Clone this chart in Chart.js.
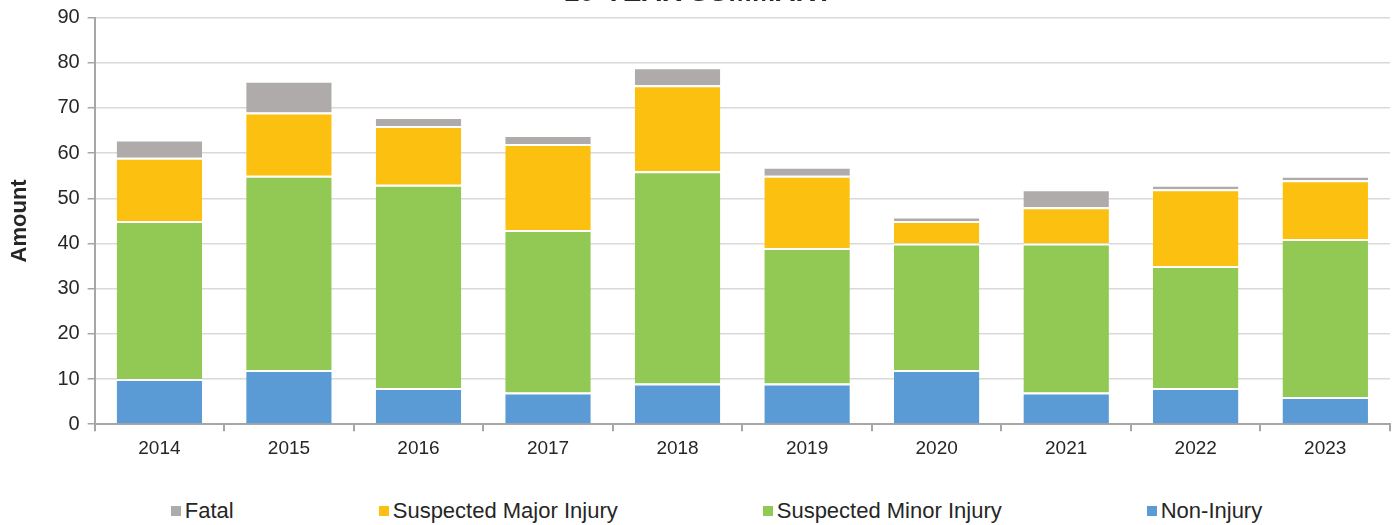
<!DOCTYPE html>
<html lang="en">
<head>
  <meta charset="UTF-8" />
  <title>10-Year Summary</title>
  <script src="https://cdn.jsdelivr.net/npm/chart.js"></script>
  <style>
    html, body {
      margin: 0;
      padding: 0;
      background: #fff;
    }
    #wrap {
      position: relative;
      width: 1399px;
      height: 525px;
      overflow: hidden;
    }
    #chartBox {
      position: absolute;
      left: 0;
      top: -26px;
      width: 1399px;
      height: 500px;
    }
    #legend {
      position: absolute;
      left: 34px;
      top: 498px;
      width: 1365px;
      display: flex;
      justify-content: center;
      gap: 145px;
      font: 22px "Liberation Sans", Arial, sans-serif;
      color: #262626;
    }
    #legend span.item {
      display: flex;
      align-items: center;
      white-space: nowrap;
    }
    #legend span.box {
      display: inline-block;
      width: 10px;
      height: 10px;
      margin-right: 4px;
    }
  </style>
</head>
<body>
  <div id="wrap">
    <div id="chartBox"><canvas id="summaryChart"></canvas></div>
    <div id="legend"></div>
  </div>

  <script>
    const years = ["2014", "2015", "2016", "2017", "2018", "2019", "2020", "2021", "2022", "2023"];

    // counts per year, stacked bottom to top
    const nonInjury    = [10, 12, 8, 7, 9, 9, 12, 7, 8, 6];
    const minorInjury  = [35, 43, 45, 36, 47, 30, 28, 33, 27, 35];
    const majorInjury  = [14, 14, 13, 19, 19, 16, 5, 8, 17, 13];
    const fatal        = [4, 7, 2, 2, 4, 2, 1, 4, 1, 1];

    const yTicks = [0, 10, 20, 30, 40, 50, 60, 70, 80, 90];

    const series = [
      { label: "Non-Injury", data: nonInjury, color: "#5B9BD5" },
      { label: "Suspected Minor Injury", data: minorInjury, color: "#92C955" },
      { label: "Suspected Major Injury", data: majorInjury, color: "#FCC010" },
      { label: "Fatal", data: fatal, color: "#AFABAB" }
    ];

    const fontFamily = "'Liberation Sans', Arial, sans-serif";

    new Chart(document.getElementById("summaryChart"), {
      type: "bar",
      data: {
        labels: years,
        datasets: series.map(s => ({
          label: s.label,
          data: s.data,
          backgroundColor: s.color,
          borderColor: "#ffffff",
          borderWidth: { top: 2, bottom: 0, left: 0, right: 0 },
          categoryPercentage: 1,
          barPercentage: 0.66
        }))
      },
      options: {
        responsive: true,
        maintainAspectRatio: false,
        animation: false,
        layout: { padding: { left: 7, right: 9, top: 0, bottom: 8 } },
        plugins: {
          legend: { display: false },
          tooltip: { enabled: false },
          title: {
            display: true,
            text: "10-YEAR SUMMARY",
            color: "#262626",
            font: { family: fontFamily, size: 28, weight: "bold" },
            padding: { top: 2, bottom: 8 }
          }
        },
        scales: {
          x: {
            stacked: true,
            grid: {
              offset: true,
              drawOnChartArea: false,
              drawTicks: true,
              tickLength: 7,
              tickColor: "#A6A6A6",
              lineWidth: 2
            },
            border: { color: "#A6A6A6", width: 2 },
            ticks: { color: "#262626", font: { family: fontFamily, size: 19 }, padding: 6 }
          },
          y: {
            stacked: true,
            min: 0,
            max: 90,
            afterBuildTicks: axis => { axis.ticks = yTicks.map(v => ({ value: v })); },
            grid: {
              color: "#D9D9D9",
              lineWidth: 1.5,
              tickLength: 7,
              tickColor: "#A6A6A6"
            },
            border: { color: "#A6A6A6", width: 2 },
            ticks: { color: "#262626", font: { family: fontFamily, size: 20 }, padding: 8 },
            title: {
              display: true,
              text: "Amount",
              color: "#262626",
              font: { family: fontFamily, size: 22, weight: "bold" },
              padding: { top: 0, bottom: 16 }
            }
          }
        }
      }
    });

    // legend in the original order: Fatal first, Non-Injury last
    const legendEl = document.getElementById("legend");
    series.slice().reverse().forEach(s => {
      const item = document.createElement("span");
      item.className = "item";
      const box = document.createElement("span");
      box.className = "box";
      box.style.background = s.color;
      item.appendChild(box);
      item.appendChild(document.createTextNode(s.label));
      legendEl.appendChild(item);
    });
  </script>
</body>
</html>
